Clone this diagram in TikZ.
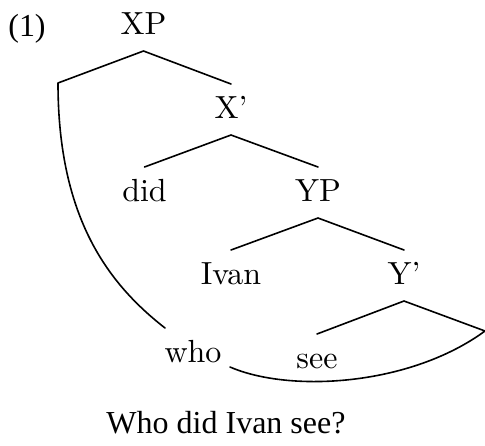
\documentclass[tikz,border=0pt]{standalone}
\usepackage{fontspec}
\newfontfamily\timesfont{Liberation Serif}
\newfontfamily\lmten{lmroman10-regular.otf}[Ligatures=TeX]
\usetikzlibrary{calc}
\begin{document}
\begin{tikzpicture}[x=1pt,y=-1pt,
  lbl/.style={anchor=base,inner sep=0pt,font=\lmten\fontsize{32}{38}\selectfont},
  txt/.style={anchor=base,inner sep=0pt,font=\timesfont\fontsize{32}{38}\selectfont},
  branch/.style={line width=1.6pt,line cap=round,line join=round}]
\useasboundingbox (0,0) rectangle (485,445);

% example number and the caption sentence
\node[txt] (num) at (27,36) {(1)};
\node[txt] (sent) at (226,433) {Who did Ivan see?};

% tree labels, placed on their baselines
\node[lbl] (XP)   at (143.5,34) {XP};
\node[lbl] (Xb)   at (231,118)  {X’};
\node[lbl] (did)  at (144.5,201) {did};
\node[lbl] (YP)   at (318,201)  {YP};
\node[lbl] (Ivan) at (231,284)  {Ivan};
\node[lbl] (Yb)   at (404,284)  {Y’};
\node[lbl] (who)  at (193,362)  {who};
\node[lbl] (see)  at (317,368)  {see};

% free branch ends: spec of XP and complement of Y'
\coordinate (spec) at (58,83);
\coordinate (comp) at (485,331);

% ordinary branches: from below the mother to above the daughter
\foreach \m/\d in {XP/Xb, Xb/did, Xb/YP, YP/Ivan, YP/Yb, Yb/see}
  \draw[branch] ($(\m.base)+(0,17)$) -- ($(\d.base)+(0,-34)$);

% spec branch bending down to the moved wh-word
\draw[branch] ($(XP.base)+(0,17)$) -- (spec)
  .. controls (58,220) and (110,285) .. ($(who.base)+(-28,-34)$);

% link from the wh-word back to the complement position
\draw[branch] ($(who.base)+(37,5)$)
  .. controls (290,393) and (410,386) .. (comp) -- ($(Yb.base)+(0,17)$);
\end{tikzpicture}
\end{document}
